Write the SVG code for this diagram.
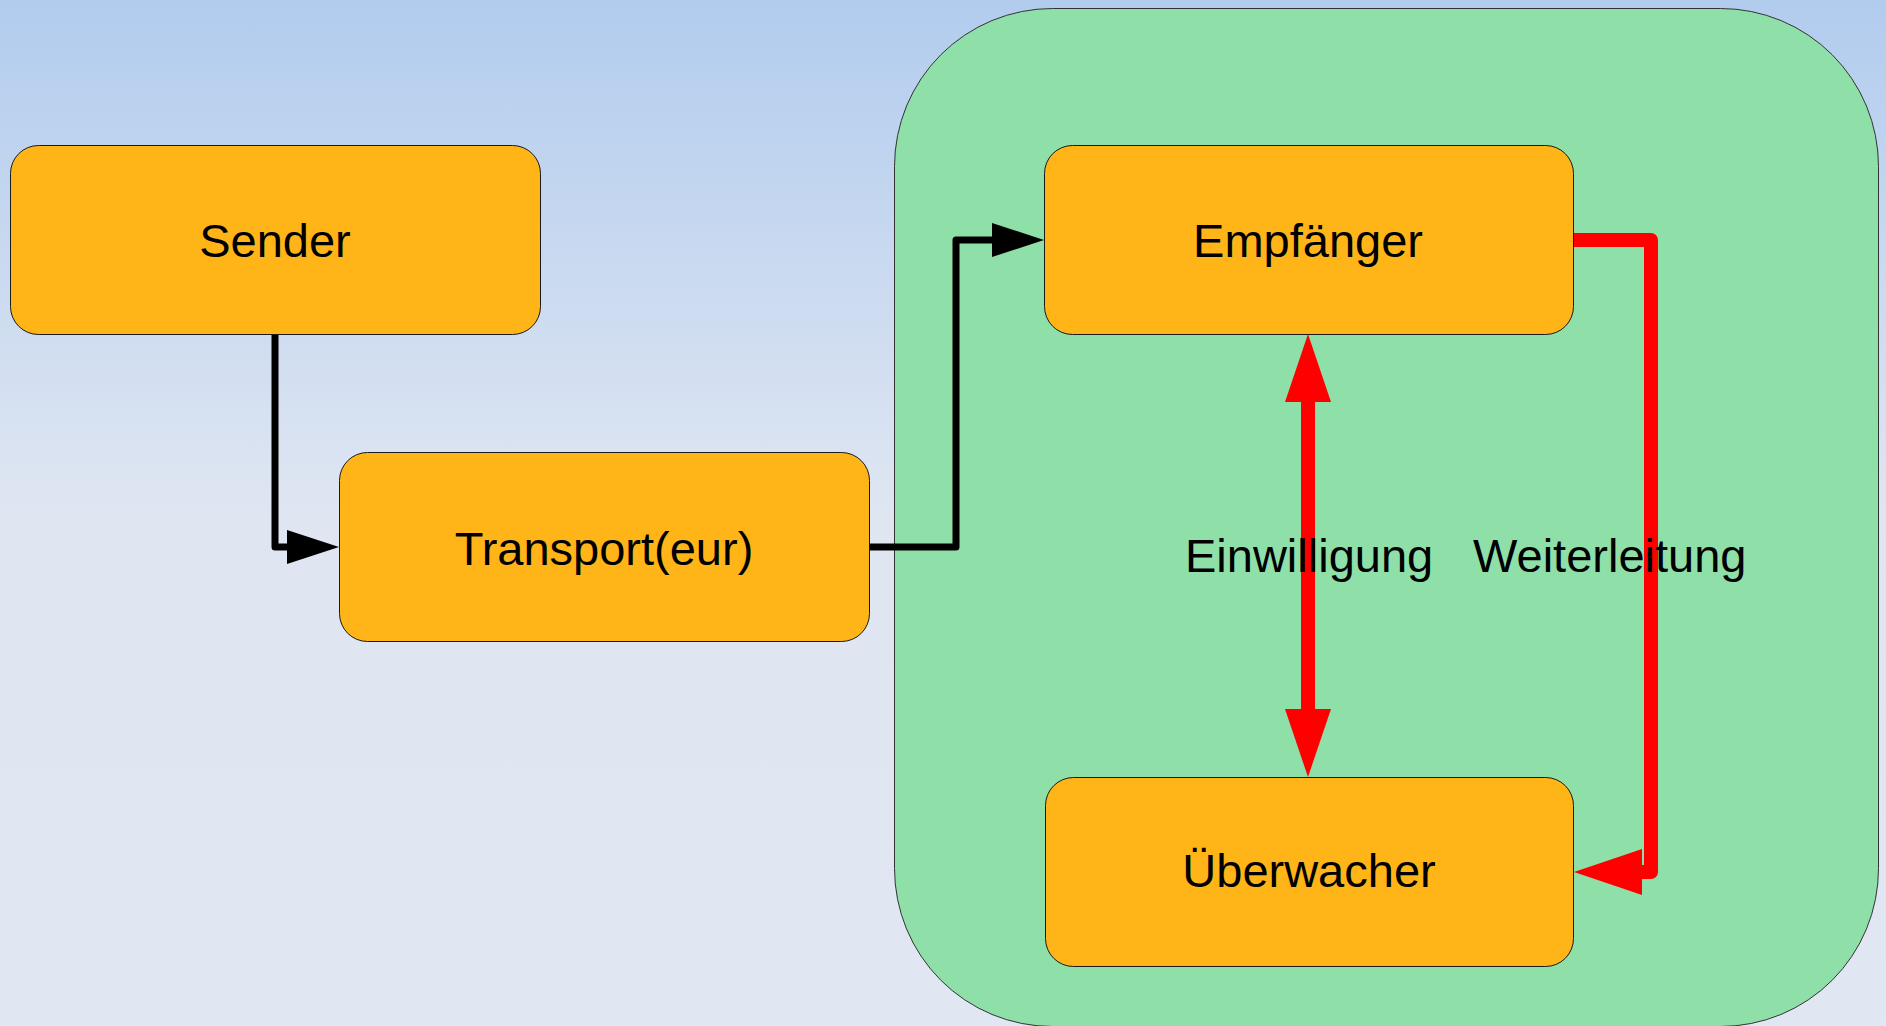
<svg xmlns="http://www.w3.org/2000/svg" width="1886" height="1026" viewBox="0 0 1886 1026">
  <defs>
    <linearGradient id="bg" x1="0" y1="0" x2="0" y2="1">
      <stop offset="0" stop-color="#b2ccee"/>
      <stop offset="0.5" stop-color="#dfe6f2"/>
      <stop offset="1" stop-color="#e0e7f3"/>
    </linearGradient>
    <marker id="arrBlack" markerUnits="userSpaceOnUse" markerWidth="52" markerHeight="34" viewBox="0 0 52 34" refX="0" refY="17" orient="auto" overflow="visible">
      <path d="M0,0 L52,17 L0,34 z" fill="#000"/>
    </marker>
    <marker id="arrRed" markerUnits="userSpaceOnUse" markerWidth="68" markerHeight="46" viewBox="0 0 68 46" refX="0" refY="23" orient="auto-start-reverse" overflow="visible">
      <path d="M0,0 L68,23 L0,46 z" fill="#ff0000"/>
    </marker>
  </defs>
  <style>
    .box { fill: #ffb418; stroke: #1a1a1a; stroke-width: 1; }
    .label { font-family: "Liberation Sans", Arial, sans-serif; font-size: 47px; fill: #000; }
    .mid { text-anchor: middle; }
    .blk { fill: none; stroke: #000; stroke-width: 7; stroke-linejoin: round; }
    .red { fill: none; stroke: #ff0000; stroke-width: 14; stroke-linejoin: round; }
  </style>
  <rect x="0" y="0" width="1886" height="1026" fill="url(#bg)"/>

  <g id="container">
    <rect x="894.5" y="8.5" width="984" height="1018" rx="158" ry="158" fill="#8fdfa9" stroke="#333" stroke-width="1"/>
  </g>

  <g id="connectors">
    <path class="blk" d="M275,335 V547 H287" marker-end="url(#arrBlack)"/>
    <path class="blk" d="M869,547 H956 V240 H992" marker-end="url(#arrBlack)"/>
    <path class="red" d="M1573,240 H1651 V872 H1642" marker-end="url(#arrRed)"/>
    <path class="red" d="M1308,402 V709" marker-start="url(#arrRed)" marker-end="url(#arrRed)"/>
  </g>

  <g id="sender">
    <rect class="box" x="10.5" y="145.5" width="530" height="189" rx="28" ry="28"/>
    <text class="label mid" x="275" y="257">Sender</text>
  </g>
  <g id="transport">
    <rect class="box" x="339.5" y="452.5" width="530" height="189" rx="28" ry="28"/>
    <text class="label mid" x="604" y="565">Transport(eur)</text>
  </g>
  <g id="empfaenger">
    <rect class="box" x="1044.5" y="145.5" width="529" height="189" rx="28" ry="28"/>
    <text class="label mid" x="1308" y="257">Empfänger</text>
  </g>
  <g id="ueberwacher">
    <rect class="box" x="1045.5" y="777.5" width="528" height="189" rx="28" ry="28"/>
    <text class="label mid" x="1309" y="887">Überwacher</text>
  </g>

  <g id="labels">
    <text class="label" x="1185" y="572">Einwilligung</text>
    <text class="label" x="1473" y="572">Weiterleitung</text>
  </g>
</svg>
